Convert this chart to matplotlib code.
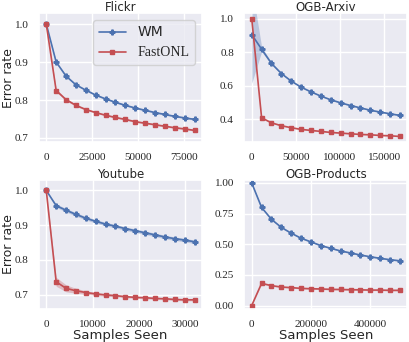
import matplotlib
matplotlib.use("Agg")
import matplotlib.pyplot as plt
import seaborn as sns
import numpy as np

# ---------------- data ----------------
titles = ["Flickr", "OGB-Arxiv", "Youtube", "OGB-Products"]
methods = ["WM", "FastONL"]

flickr_x = [0, 5380, 10760, 16140, 21520, 26900, 32280, 37660, 43040, 48420,
            53800, 59180, 64560, 69940, 75320, 80700]
flickr_wm = [1.0, 0.900, 0.863, 0.840, 0.826, 0.813, 0.803, 0.794, 0.786, 0.779,
             0.773, 0.767, 0.762, 0.757, 0.753, 0.749]
flickr_wm_sd = [0.0, 0.002, 0.002, 0.002, 0.002, 0.002, 0.002, 0.002, 0.002, 0.002,
                0.002, 0.002, 0.002, 0.002, 0.002, 0.002]
flickr_fo = [1.0, 0.825, 0.801, 0.786, 0.775, 0.767, 0.760, 0.754, 0.749, 0.743,
             0.739, 0.735, 0.731, 0.727, 0.724, 0.720]
flickr_fo_sd = [0.0, 0.004, 0.003, 0.003, 0.002, 0.002, 0.002, 0.002, 0.002, 0.002,
                0.002, 0.002, 0.002, 0.002, 0.002, 0.002]

arxiv_x = [0, 11200, 22400, 33600, 44800, 56000, 67200, 78400, 89600, 100800,
           112000, 123200, 134400, 145600, 156800, 168000]
arxiv_wm = [0.905, 0.818, 0.733, 0.673, 0.628, 0.592, 0.564, 0.539, 0.517, 0.499,
            0.483, 0.469, 0.455, 0.444, 0.434, 0.424]
arxiv_wm_sd = [0.29, 0.015, 0.006, 0.004, 0.003, 0.003, 0.003, 0.003, 0.003, 0.003,
               0.003, 0.003, 0.003, 0.003, 0.003, 0.003]
arxiv_fo = [1.0, 0.410, 0.380, 0.363, 0.351, 0.341, 0.335, 0.329, 0.323, 0.319,
            0.315, 0.311, 0.309, 0.305, 0.303, 0.299]
arxiv_fo_sd = [0.0, 0.003, 0.003, 0.002, 0.002, 0.002, 0.002, 0.002, 0.002, 0.002,
               0.002, 0.002, 0.002, 0.002, 0.002, 0.002]

youtube_x = [0, 2130, 4260, 6390, 8520, 10650, 12780, 14910, 17040, 19170,
             21300, 23430, 25560, 27690, 29820, 31950]
youtube_wm = [1.0, 0.956, 0.943, 0.931, 0.920, 0.911, 0.903, 0.897, 0.890, 0.884,
              0.878, 0.872, 0.866, 0.861, 0.857, 0.852]
youtube_wm_sd = [0.0, 0.005, 0.005, 0.005, 0.005, 0.005, 0.005, 0.005, 0.005, 0.005,
                 0.005, 0.005, 0.005, 0.005, 0.005, 0.005]
youtube_fo = [1.0, 0.737, 0.718, 0.711, 0.706, 0.702, 0.699, 0.697, 0.694, 0.692,
              0.691, 0.689, 0.688, 0.686, 0.685, 0.685]
youtube_fo_sd = [0.0, 0.013, 0.010, 0.007, 0.005, 0.004, 0.004, 0.003, 0.003, 0.003,
                 0.003, 0.003, 0.003, 0.003, 0.003, 0.003]

products_x = [0, 33400, 66800, 100200, 133600, 167000, 200400, 233800, 267200, 300600,
              334000, 367400, 400800, 434200, 467600, 501000]
products_wm = [1.0, 0.800, 0.703, 0.637, 0.590, 0.549, 0.519, 0.489, 0.467, 0.445,
               0.429, 0.412, 0.398, 0.385, 0.374, 0.365]
products_wm_sd = [0.0, 0.006, 0.005, 0.005, 0.005, 0.005, 0.005, 0.005, 0.005, 0.005,
                  0.005, 0.005, 0.005, 0.005, 0.005, 0.005]
products_fo = [0.0, 0.181, 0.162, 0.151, 0.146, 0.140, 0.137, 0.135, 0.132, 0.131,
               0.129, 0.128, 0.126, 0.126, 0.124, 0.124]
products_fo_sd = [0.0, 0.006, 0.005, 0.005, 0.005, 0.005, 0.005, 0.005, 0.005, 0.005,
                  0.005, 0.005, 0.005, 0.005, 0.005, 0.005]

xticks = [[0, 25000, 50000, 75000], [0, 50000, 100000, 150000],
          [0, 10000, 20000, 30000], [0, 200000, 400000]]
yticks = [[0.7, 0.8, 0.9, 1.0], [0.4, 0.6, 0.8, 1.0],
          [0.7, 0.8, 0.9, 1.0], [0.0, 0.25, 0.5, 0.75, 1.0]]
yfmt = ["{:.1f}", "{:.1f}", "{:.1f}", "{:.2f}"]
ylims = [(0.689, 1.029), (0.265, 1.033), (0.659, 1.031), (-0.027, 1.027)]

# ---------------- style ----------------
sns.set_theme(style="darkgrid")
plt.rcParams["font.family"] = ["DejaVu Sans"]

blue = "#4C72B0"
red = "#C44E52"
tick_font = dict(family="Liberation Serif", size=8)

fig, axes = plt.subplots(2, 2, figsize=(4.09, 3.42), dpi=100)
fig.subplots_adjust(left=0.095, right=0.996, top=0.962, bottom=0.097,
                    wspace=0.26, hspace=0.29)

panels = [
    (flickr_x, flickr_wm, flickr_wm_sd, flickr_fo, flickr_fo_sd),
    (arxiv_x, arxiv_wm, arxiv_wm_sd, arxiv_fo, arxiv_fo_sd),
    (youtube_x, youtube_wm, youtube_wm_sd, youtube_fo, youtube_fo_sd),
    (products_x, products_wm, products_wm_sd, products_fo, products_fo_sd),
]

for i, (ax, (x, wm, wsd, fo, fsd)) in enumerate(zip(axes.flat, panels)):
    x = np.array(x)
    wm, wsd, fo, fsd = map(np.array, (wm, wsd, fo, fsd))
    ax.fill_between(x, wm - wsd, wm + wsd, color=blue, alpha=0.3, lw=0)
    ax.fill_between(x, fo - fsd, fo + fsd, color=red, alpha=0.3, lw=0)
    ax.plot(x, wm, color=blue, marker="P", markersize=3.5, lw=1.2, label=methods[0])
    ax.plot(x, fo, color=red, marker="s", markersize=3, lw=1.2, label=methods[1])
    ax.set_title(titles[i], fontsize=8.5, pad=1.5)
    ax.set_xticks(xticks[i])
    ax.set_xticklabels([str(t) for t in xticks[i]], fontdict=tick_font)
    ax.set_yticks(yticks[i])
    ax.set_yticklabels([yfmt[i].format(t) for t in yticks[i]], fontdict=tick_font)
    ax.set_ylim(*ylims[i])
    ax.tick_params(axis="x", pad=2)
    ax.tick_params(axis="y", pad=1.5)
    if i % 2 == 0:
        ax.set_ylabel("Error rate", fontsize=9)
        ax.yaxis.set_label_coords(-0.147, 0.5)
    if i >= 2:
        ax.set_xlabel("Samples Seen", fontsize=9.5, labelpad=0)

leg = axes[0, 0].legend(loc="upper right", fontsize=10, frameon=True,
                        borderaxespad=0.5)
leg.get_texts()[1].set_family("Liberation Serif")

fig.savefig("out.png", dpi=100)
